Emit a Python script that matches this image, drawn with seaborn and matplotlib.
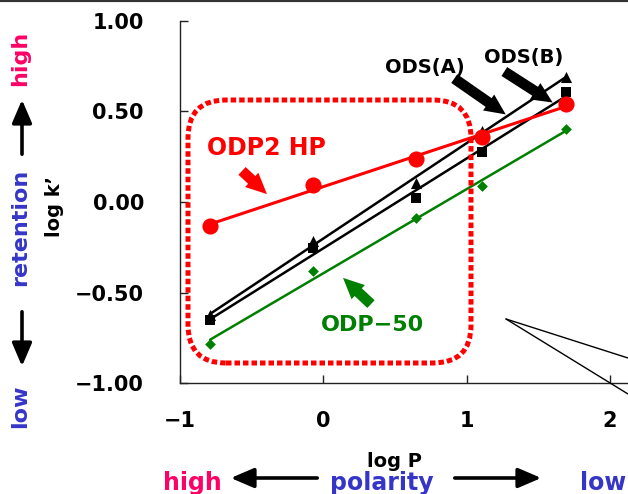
import matplotlib
matplotlib.use("Agg")
import matplotlib.pyplot as plt
import pandas as pd
import seaborn as sns
from matplotlib.patches import FancyBboxPatch, FancyArrowPatch
from matplotlib.lines import Line2D

# --- data ---
log_p = [-0.79, -0.07, 0.645, 1.107, 1.69]
odp2_hp = [-0.131, 0.094, 0.236, 0.360, 0.539]
ods_a = [-0.623, -0.215, 0.106, 0.392, 0.691]
ods_b = [-0.651, -0.254, 0.022, 0.277, 0.608]
odp_50 = [-0.785, -0.381, -0.090, 0.088, 0.401]

x_ticks = [-1, 0, 1, 2]
x_tick_labels = ['\u22121', '0', '1', '2']
y_ticks = [-1.0, -0.5, 0.0, 0.5, 1.0]
y_tick_labels = ['\u22121.00', '\u22120.50', '0.00', '0.50', '1.00']

df = pd.DataFrame({'logP': log_p, 'ODP2 HP': odp2_hp, 'ODS(A)': ods_a,
                   'ODS(B)': ods_b, 'ODP-50': odp_50})

sns.set_theme(style="white")
plt.rcParams['font.family'] = ['DejaVu Sans']
plt.rcParams['font.weight'] = 'bold'
plt.rcParams['text.color'] = 'black'
plt.rcParams['xtick.color'] = 'black'
plt.rcParams['ytick.color'] = 'black'

W, H = 628, 494
PINK = '#ff0066'
BLUE = '#3535c8'
RED = '#ff0000'
GREEN = '#008000'

fig = plt.figure(figsize=(W / 100, H / 100), dpi=100, facecolor='white')
ax = fig.add_axes([180 / W, (H - 383.3) / H, 458.6 / W, 362.6 / H])


def fpos(x, y):
    # reference pixel position -> figure fraction
    return x / W, 1 - y / H


# series: (column, color, marker, size, line width, zorder)
series = [
    ('ODP-50', GREEN, 'D', 30, 1.8, 2),
    ('ODS(B)', 'black', 's', 52, 1.8, 3),
    ('ODS(A)', 'black', '^', 64, 1.8, 3),
    ('ODP2 HP', RED, 'o', 135, 2.2, 4),
]
for col, c, m, s, lw, z in series:
    sns.regplot(data=df, x='logP', y=col, ax=ax, ci=None, color=c, marker=m,
                scatter_kws=dict(s=s, alpha=1, linewidths=0, edgecolor=c, zorder=z + 0.5),
                line_kws=dict(lw=lw, zorder=z))

ax.set_xlim(-1, 2.2)
ax.set_ylim(-1, 1)
ax.set_xticks(x_ticks, x_tick_labels)
ax.set_yticks(y_ticks, y_tick_labels)
ax.set_xlabel('')
ax.set_ylabel('')
for side in ['top', 'right']:
    ax.spines[side].set_visible(False)
for side in ['left', 'bottom']:
    ax.spines[side].set_color('#222222')
    ax.spines[side].set_linewidth(1.0)
ax.tick_params(axis='both', direction='in', length=6, width=1, color='#222222',
               labelcolor='black', labelsize=15, bottom=True, left=True)
ax.tick_params(axis='y', pad=26)
ax.tick_params(axis='x', pad=20)
for lab in ax.get_xticklabels() + ax.get_yticklabels():
    lab.set_fontweight('bold')
ax.patch.set_alpha(0)

# dotted rounded box round the polar region
box = FancyBboxPatch((1.88, (H - 363) / 100), 2.83, 2.63,
                     boxstyle="round,pad=0,rounding_size=0.38",
                     transform=fig.dpi_scale_trans, fill=False, edgecolor=RED,
                     linewidth=3.6, linestyle=(0, (1.1, 0.6)), zorder=1)
fig.add_artist(box)

# series labels and their arrows
fig.text(*fpos(207, 148), 'ODP2 HP', color=RED, fontsize=17, ha='left', va='center')
fig.text(*fpos(425, 67), 'ODS(A)', color='black', fontsize=14, ha='center', va='center')
fig.text(*fpos(524, 57), 'ODS(B)', color='black', fontsize=14, ha='center', va='center')
fig.text(*fpos(372, 325), 'ODP\u221250', color=GREEN, fontsize=16, ha='center', va='center')

fat = "simple,head_length=0.75,head_width=0.7,tail_width=0.38"
for (x0, y0), (x1, y1), c in [((240, 169), (269, 196), RED),
                              ((452, 77), (508, 116), 'black'),
                              ((502, 70), (555, 104), 'black'),
                              ((373, 306), (341, 276), GREEN)]:
    fig.add_artist(FancyArrowPatch(
        fpos(x0, y0), fpos(x1, y1), transform=fig.transFigure,
        arrowstyle=fat, mutation_scale=20, color=c, lw=0))

# axis titles and direction hints
fig.text(*fpos(55, 206), 'log k\u2019', rotation=90, fontsize=14, ha='center', va='center')
fig.text(*fpos(394, 467), 'log P', fontsize=14, ha='center', va='baseline')

fig.text(*fpos(20, 58), 'high', rotation=90, color=PINK, fontsize=16, ha='center', va='center')
fig.text(*fpos(20, 227), 'retention', rotation=90, color=BLUE, fontsize=16, ha='center', va='center')
fig.text(*fpos(20, 406), 'low', rotation=90, color=BLUE, fontsize=16, ha='center', va='center')

fig.text(*fpos(163, 490), 'high', color=PINK, fontsize=17, ha='left', va='baseline')
fig.text(*fpos(382, 490), 'polarity', color=BLUE, fontsize=17, ha='center', va='baseline')
fig.text(*fpos(580, 490), 'low', color=BLUE, fontsize=17, ha='left', va='baseline')

thin = "-|>,head_length=0.7,head_width=0.3"
for (x0, y0), (x1, y1) in [((22, 157), (22, 97)), ((22, 309), (22, 369)),
                           ((320, 478), (228, 478)), ((452, 478), (544, 478))]:
    fig.add_artist(FancyArrowPatch(
        fpos(x0, y0), fpos(x1, y1), transform=fig.transFigure,
        arrowstyle=thin, mutation_scale=20, color='black', lw=2.6))

# callout lines at lower right and the frame line at the top
for (x0, y0), (x1, y1) in [((506, 319), (628, 358)), ((506, 319), (628, 394))]:
    fig.add_artist(Line2D([x0 / W, x1 / W], [1 - y0 / H, 1 - y1 / H],
                          transform=fig.transFigure, color='black', lw=1))
fig.add_artist(Line2D([0, 1], [1, 1], transform=fig.transFigure, color='#333333', lw=3))

fig.savefig('out.png', dpi=100, facecolor='white')
